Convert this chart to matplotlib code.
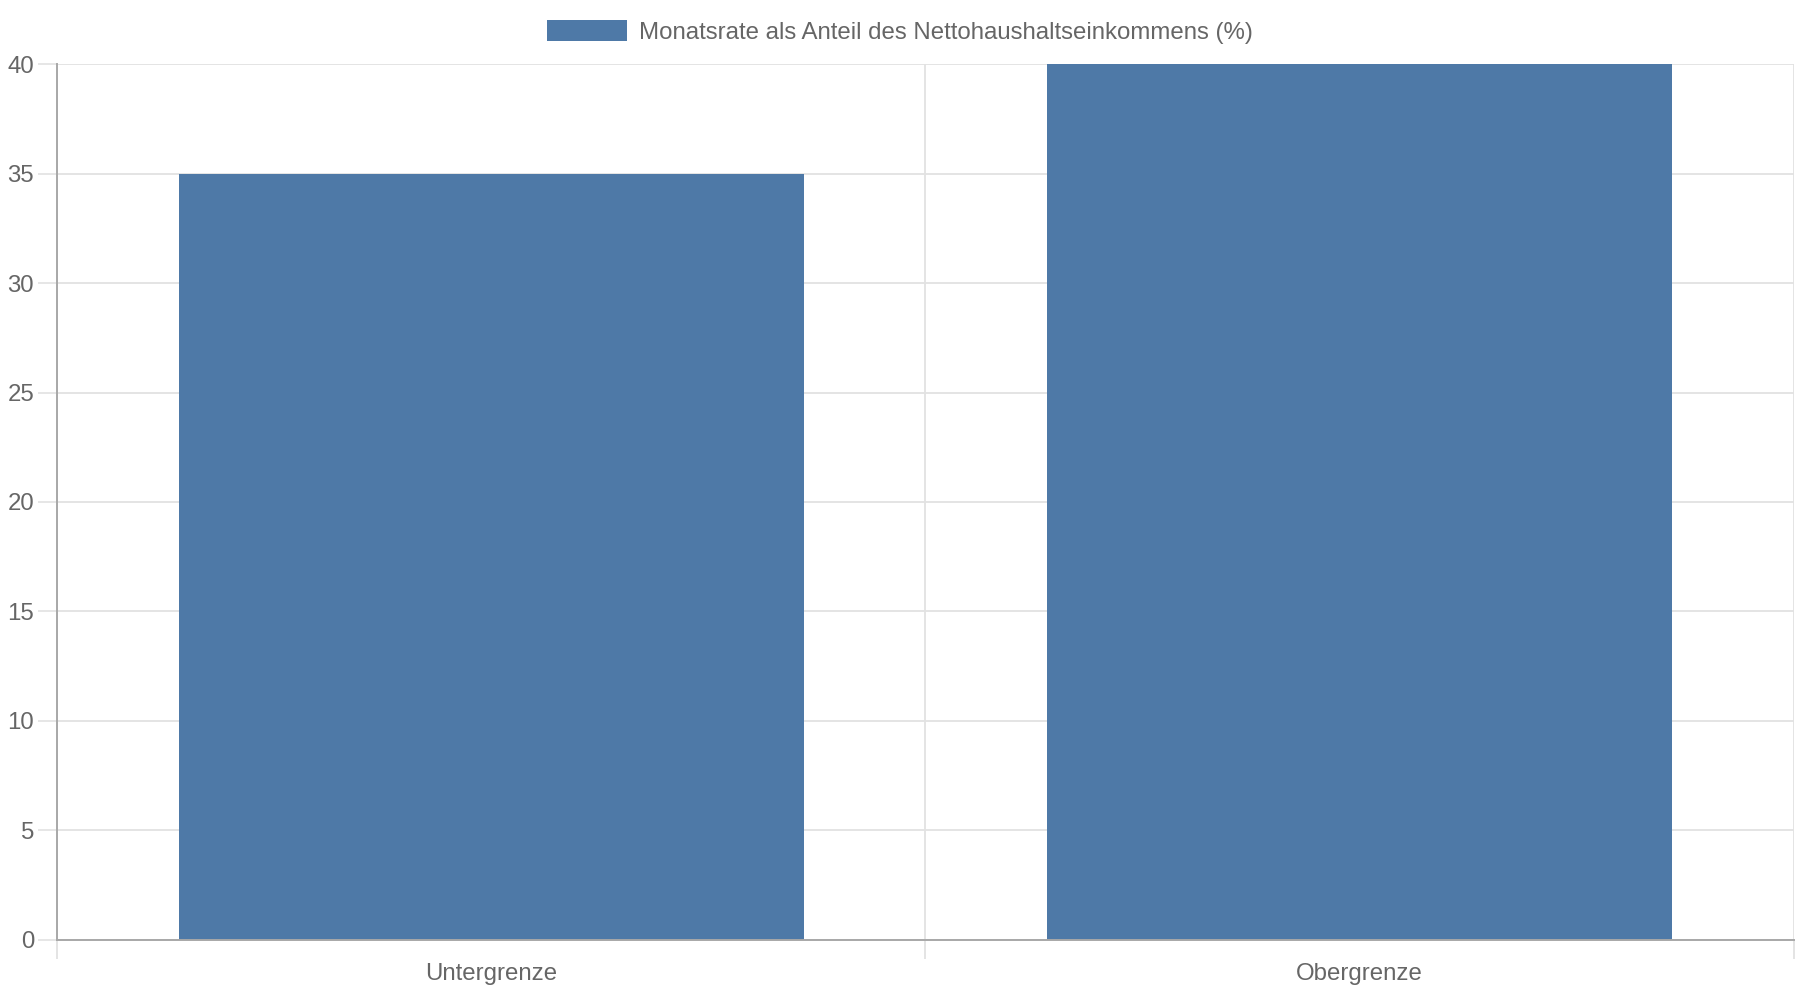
import matplotlib.pyplot as plt

plt.rcParams['font.family'] = ['Liberation Sans', 'DejaVu Sans']

# Data
categories = ['Untergrenze', 'Obergrenze']
values = [35, 40]
series_label = 'Monatsrate als Anteil des Nettohaushaltseinkommens (%)'

bar_color = '#4e79a7'
text_color = '#666666'
grid_color = '#e2e2e2'
axis_color = '#a8a8a8'
fs = 17.3  # ~24px at dpi 100

fig = plt.figure(figsize=(18, 10), dpi=100)
ax = fig.add_axes([0.0319, 0.0605, 0.9645, 0.8752])

x = range(len(categories))
bars = ax.bar(x, values, width=0.72, color=bar_color, label=series_label, zorder=3)

ax.set_xlim(-0.5, len(categories) - 0.5)
ax.set_ylim(0, 40)
ax.set_yticks(range(0, 41, 5))

# x labels at centers, gridlines at category boundaries
ax.set_xticks(list(x))
ax.set_xticklabels(categories)
ax.set_xticks([i - 0.5 for i in range(len(categories) + 1)], minor=True)
ax.tick_params(axis='x', which='major', length=0, pad=17, labelsize=fs, labelcolor=text_color)
ax.tick_params(axis='x', which='minor', length=13.7, width=1.3, color=grid_color)
ax.tick_params(axis='y', length=13.7, width=1.2, color=grid_color, pad=3, labelsize=fs, labelcolor=text_color)
# the tick under the y axis keeps the axis colour
ax.xaxis.get_minor_ticks()[0].tick1line.set_color(axis_color)

ax.grid(axis='y', which='major', color=grid_color, linewidth=1.3, zorder=0)
ax.grid(axis='x', which='minor', color=grid_color, linewidth=1.3, zorder=0)
ax.grid(axis='x', which='major', visible=False)

for side in ['top', 'right']:
    ax.spines[side].set_visible(False)
for side in ['left', 'bottom']:
    ax.spines[side].set_color(axis_color)
    ax.spines[side].set_linewidth(1.4)
    ax.spines[side].set_zorder(4)

fig.legend(handles=[bars], labels=[series_label], loc='center', bbox_to_anchor=(0.5, 0.968),
           frameon=False, fontsize=fs, labelcolor=text_color,
           handlelength=3.33, handleheight=0.96, handletextpad=0.5)

plt.savefig('out.png', dpi=100)
